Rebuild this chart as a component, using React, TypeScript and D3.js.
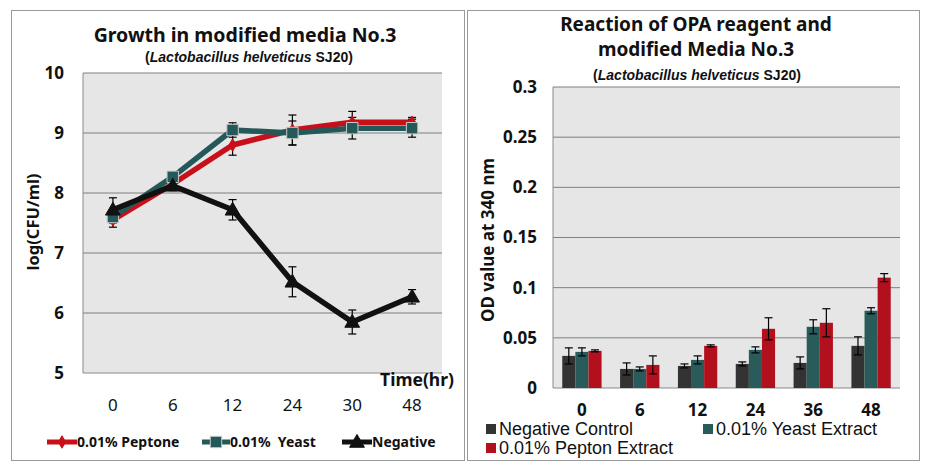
import React from "react";
import * as d3 from "d3";

const timesL = ["0", "6", "12", "24", "30", "48"];
const peptone = [7.55, 8.15, 8.8, 9.05, 9.18, 9.18];
const peptoneErr = [0.12, 0.08, 0.17, 0.25, 0.18, 0.08];
const yeast = [7.6, 8.27, 9.05, 9.0, 9.08, 9.08];
const yeastErr = [0.1, 0.07, 0.12, 0.2, 0.18, 0.15];
const negative = [7.72, 8.12, 7.72, 6.52, 5.85, 6.27];
const negativeErr = [0.2, 0.08, 0.17, 0.25, 0.2, 0.12];
const yTicksL = [5, 6, 7, 8, 9, 10];

const timesR = ["0", "6", "12", "24", "36", "48"];
const barSeries = ["Negative Control", "0.01% Yeast Extract", "0.01% Pepton Extract"];
const negCtrl = [0.032, 0.019, 0.022, 0.024, 0.025, 0.042];
const negCtrlErr = [0.008, 0.006, 0.002, 0.002, 0.006, 0.009];
const yeastExt = [0.036, 0.019, 0.028, 0.038, 0.061, 0.077];
const yeastExtErr = [0.004, 0.002, 0.004, 0.003, 0.007, 0.003];
const peptonExt = [0.037, 0.023, 0.042, 0.059, 0.065, 0.11];
const peptonExtErr = [0.001, 0.009, 0.001, 0.011, 0.014, 0.004];
const yTicksR = [0, 0.05, 0.1, 0.15, 0.2, 0.25, 0.3];

const RED = "#c8101a";
const TEAL = "#255858";
const BLACK = "#111111";
const BAR_BLACK = "#333333";
const BAR_TEAL = "#2a5b5b";
const BAR_RED = "#b3101e";
const FONT = "'Noto Sans', 'DejaVu Sans', sans-serif";
const FONT2 = "'Liberation Sans', Arial, sans-serif";

export default function App() {
  // left chart
  const xL = d3.scaleBand().domain(timesL).range([83, 442]);
  const yL = d3.scaleLinear().domain([5, 10]).range([373, 73]);
  const cx = (t: string) => (xL(t) as number) + xL.bandwidth() / 2;
  const line = d3
    .line<number>()
    .x((_, i) => cx(timesL[i]))
    .y((v) => yL(v));
  const seriesL = [
    { name: "0.01% Peptone", vals: peptone, err: peptoneErr, color: RED, marker: "diamond" },
    { name: "0.01%  Yeast", vals: yeast, err: yeastErr, color: TEAL, marker: "square" },
    { name: "Negative", vals: negative, err: negativeErr, color: BLACK, marker: "triangle" },
  ];
  const sym = (m: string, size: number) => {
    const t = m === "diamond" ? d3.symbolDiamond : m === "square" ? d3.symbolSquare : d3.symbolTriangle;
    return d3.symbol().type(t).size(size)() as string;
  };
  const markerEl = (m: string, color: string, x: number, y: number, key: string) => {
    if (m === "square")
      return (
        <path key={key} d={sym(m, 130)} transform={`translate(${x},${y})`} fill={color} stroke="#c8c8c8" strokeWidth={1} />
      );
    if (m === "diamond")
      return <path key={key} d={sym(m, 45)} transform={`translate(${x},${y})`} fill={color} stroke={color} />;
    return <path key={key} d={sym(m, 95)} transform={`translate(${x},${y + 1})`} fill={color} stroke={color} />;
  };
  const errBar = (x: number, y1: number, y2: number, key: string, cap = 4) => (
    <g key={key} stroke="#000" strokeWidth={1.2}>
      <line x1={x} x2={x} y1={y1} y2={y2} />
      <line x1={x - cap} x2={x + cap} y1={y1} y2={y1} />
      <line x1={x - cap} x2={x + cap} y1={y2} y2={y2} />
    </g>
  );

  // right chart
  const xR = d3.scaleBand().domain(timesR).range([553, 900]);
  const bw = xR.bandwidth();
  const groupW = bw * 0.68;
  const xSub = d3.scaleBand().domain(barSeries).range([(bw - groupW) / 2, (bw + groupW) / 2]);
  const yR = d3.scaleLinear().domain([0, 0.3]).range([388, 87]);
  const barData = [
    { name: barSeries[0], vals: negCtrl, err: negCtrlErr, color: BAR_BLACK },
    { name: barSeries[1], vals: yeastExt, err: yeastExtErr, color: BAR_TEAL },
    { name: barSeries[2], vals: peptonExt, err: peptonExtErr, color: BAR_RED },
  ];

  const legendL = [
    { s: seriesL[0], x: 47, w: 30 },
    { s: seriesL[1], x: 202, w: 28 },
    { s: seriesL[2], x: 342, w: 30 },
  ];

  return (
    <svg width={929} height={472} style={{ position: "absolute", left: 0, top: 0, background: "#fff" }}>
      {/* panel borders */}
      <rect x={11.5} y={10.5} width={453} height={450} fill="#fff" stroke="#9a9a9a" strokeWidth={1} />
      <rect x={467.5} y={10.5} width={452} height={450} fill="#fff" stroke="#9a9a9a" strokeWidth={1} />

      {/* ===== LEFT CHART ===== */}
      <text x={245} y={42} textAnchor="middle" fontFamily={FONT} fontWeight="bold" fontSize={19.5} fill="#111">
        Growth in modified media No.3
      </text>
      <text x={249} y={62} textAnchor="middle" fontFamily={FONT2} fontWeight="bold" fontSize={14} fill="#111">
        (<tspan fontStyle="italic">Lactobacillus helveticus</tspan> SJ20)
      </text>
      <rect x={83} y={73} width={359} height={300} fill="#e6e6e6" />
      {yTicksL.map((t) => (
        <g key={"gl" + t}>
          {t > 5 && <line x1={83} x2={442} y1={yL(t)} y2={yL(t)} stroke="#7f7f7f" strokeWidth={1} />}
          <text x={64} y={yL(t)} dy="0.35em" textAnchor="end" fontFamily={FONT} fontWeight="bold" fontSize={17} fill="#111">
            {t}
          </text>
        </g>
      ))}
      <line x1={83} x2={83} y1={73} y2={373} stroke="#8a8a8a" />
      <line x1={83} x2={442} y1={373} y2={373} stroke="#8a8a8a" />
      {timesL.map((t) => (
        <text key={"xl" + t} x={cx(t)} y={405} dy="0.35em" textAnchor="middle" fontFamily={FONT} fontSize={17} fill="#111">
          {t}
        </text>
      ))}
      <text x={454} y={380} dy="0.35em" textAnchor="end" fontFamily={FONT} fontWeight="bold" fontSize={17.5} fill="#111">
        Time(hr)
      </text>
      <text
        transform="translate(33,222) rotate(-90)"
        textAnchor="middle"
        dy="0.35em"
        fontFamily={FONT}
        fontWeight="bold"
        fontSize={16.5}
        fill="#111"
      >
        log(CFU/ml)
      </text>
      {seriesL.map((s) => (
        <path key={"ln" + s.name} d={line(s.vals) as string} fill="none" stroke={s.color} strokeWidth={5.5} strokeLinejoin="round" />
      ))}
      {seriesL.map((s) =>
        s.vals.map((v, i) => errBar(cx(timesL[i]), yL(v + s.err[i]), yL(v - s.err[i]), `e${s.name}${i}`, 4))
      )}
      {seriesL.map((s) => s.vals.map((v, i) => markerEl(s.marker, s.color, cx(timesL[i]), yL(v), `m${s.name}${i}`)))}
      {legendL.map(({ s, x, w }) => (
        <g key={"lg" + s.name}>
          <line x1={x} x2={x + w} y1={442} y2={442} stroke={s.color} strokeWidth={5} />
          {markerEl(s.marker, s.color, x + w / 2, 442, "lm" + s.name)}
          <text x={x + w} y={442} dy="0.35em" fontFamily={FONT} fontWeight="bold" fontSize={14} fill="#111" style={{ whiteSpace: "pre" }}>
            {s.name}
          </text>
        </g>
      ))}

      {/* ===== RIGHT CHART ===== */}
      <text x={696} y={31} textAnchor="middle" fontFamily={FONT} fontWeight="bold" fontSize={19} fill="#111">
        Reaction of OPA reagent and
      </text>
      <text x={696} y={56} textAnchor="middle" fontFamily={FONT} fontWeight="bold" fontSize={19} fill="#111">
        modified Media No.3
      </text>
      <text x={697} y={80} textAnchor="middle" fontFamily={FONT2} fontWeight="bold" fontSize={14} fill="#111">
        (<tspan fontStyle="italic">Lactobacillus helveticus</tspan> SJ20)
      </text>
      <rect x={553} y={87} width={347} height={301} fill="#e6e6e6" />
      {yTicksR.map((t) => (
        <g key={"gr" + t}>
          {t > 0 && <line x1={553} x2={900} y1={yR(t)} y2={yR(t)} stroke="#7f7f7f" strokeWidth={1} />}
          <text x={537} y={yR(t)} dy="0.35em" textAnchor="end" fontFamily={FONT} fontWeight="bold" fontSize={17} fill="#111">
            {t}
          </text>
        </g>
      ))}
      <line x1={553} x2={553} y1={87} y2={388} stroke="#8a8a8a" />
      <line x1={553} x2={900} y1={388} y2={388} stroke="#8a8a8a" />
      <text
        transform="translate(488,240) rotate(-90)"
        textAnchor="middle"
        dy="0.35em"
        fontFamily={FONT}
        fontWeight="bold"
        fontSize={17}
        fill="#111"
      >
        OD value at 340 nm
      </text>
      {barData.map((s) =>
        s.vals.map((v, i) => {
          const x = (xR(timesR[i]) as number) + (xSub(s.name) as number);
          return <rect key={`b${s.name}${i}`} x={x} y={yR(v)} width={xSub.bandwidth()} height={yR(0) - yR(v)} fill={s.color} />;
        })
      )}
      {barData.map((s) =>
        s.vals.map((v, i) => {
          const x = (xR(timesR[i]) as number) + (xSub(s.name) as number) + xSub.bandwidth() / 2;
          return errBar(x, yR(v + s.err[i]), yR(v - s.err[i]), `be${s.name}${i}`, 4);
        })
      )}
      {timesR.map((t) => (
        <text
          key={"xr" + t}
          x={(xR(t) as number) + bw / 2}
          y={410}
          dy="0.35em"
          textAnchor="middle"
          fontFamily={FONT}
          fontWeight="bold"
          fontSize={17}
          fill="#111"
        >
          {t}
        </text>
      ))}
      {[
        { s: barData[0], x: 486, y: 429 },
        { s: barData[1], x: 703, y: 429 },
        { s: barData[2], x: 486, y: 448 },
      ].map(({ s, x, y }) => (
        <g key={"rl" + s.name}>
          <rect x={x} y={y - 5} width={10} height={10} fill={s.color} />
          <text x={x + 13} y={y} dy="0.35em" fontFamily={FONT2} fontSize={18} fill="#111">
            {s.name}
          </text>
        </g>
      ))}
    </svg>
  );
}
